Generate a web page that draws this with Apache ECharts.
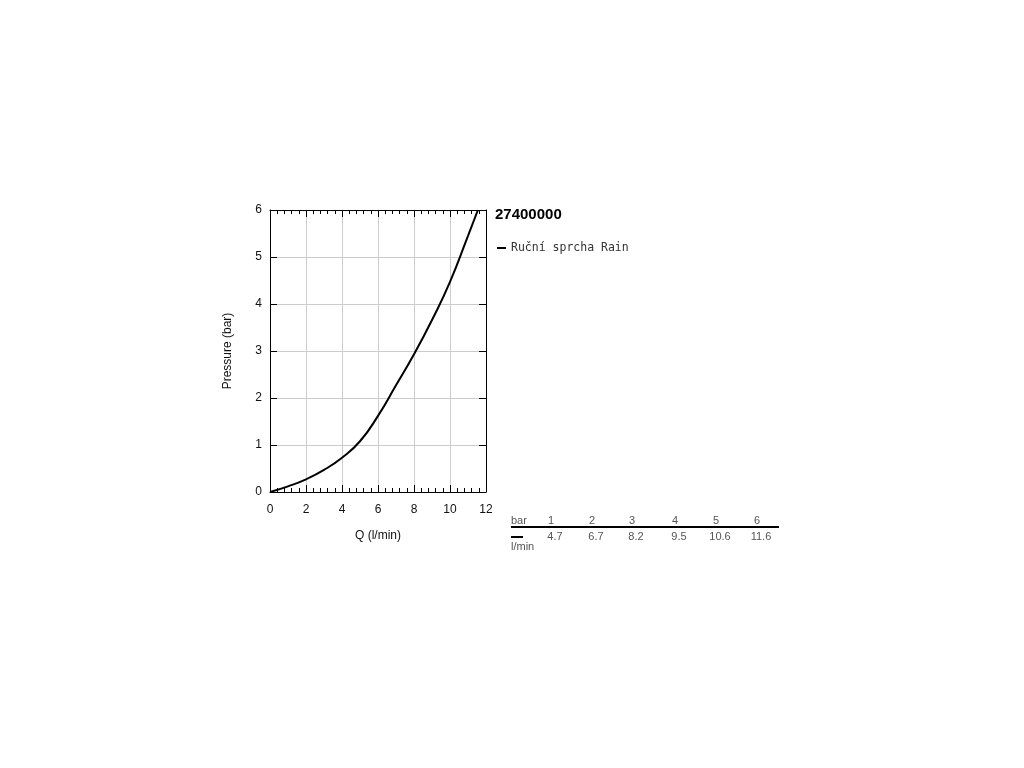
<!DOCTYPE html>
<html><head><meta charset="utf-8">
<script src="https://cdn.jsdelivr.net/npm/echarts@6/dist/echarts.min.js"></script>
<style>html,body{margin:0;padding:0;background:#fff}#c{width:1024px;height:768px}</style>
</head><body><div id="c"></div>
<script>
const productCode = '27400000';
const seriesName = 'Ruční sprcha Rain';
// curve points (Q l/min, pressure bar)
const curveQ = [0, 1, 2, 3, 4, 5, 6, 7, 8, 9, 10, 11, 11.55];
const curveP = [0, 0.12, 0.27, 0.47, 0.73, 1.08, 1.62, 2.27, 2.93, 3.66, 4.47, 5.45, 6];
// table
const tableBar = [1, 2, 3, 4, 5, 6];
const tableFlow = ['4.7', '6.7', '8.2', '9.5', '10.6', '11.6'];

const chart = echarts.init(document.getElementById('c'));
const gl = 270, gt = 210, gw = 216, gh = 282;
const axisFont = {fontFamily: 'Liberation Sans, Arial', fontSize: 12, color: '#111'};
const tFont = '11px "Liberation Sans", Arial';
const tColor = '#555';

const graphics = [];
// legend
graphics.push({type: 'line', shape: {x1: 497, y1: 248, x2: 506, y2: 248}, style: {stroke: '#000', lineWidth: 2}});
graphics.push({type: 'text', x: 511, y: 248, style: {text: seriesName, font: '11.5px "DejaVu Sans Mono", monospace', fill: '#333', verticalAlign: 'middle'}});
// table
const colX = [551, 592, 632, 675, 716, 757];
graphics.push({type: 'text', x: 511, y: 521, style: {text: 'bar', font: tFont, fill: tColor, verticalAlign: 'middle'}});
graphics.push({type: 'line', shape: {x1: 511, y1: 527, x2: 779, y2: 527}, style: {stroke: '#000', lineWidth: 2}});
graphics.push({type: 'line', shape: {x1: 511, y1: 537, x2: 523, y2: 537}, style: {stroke: '#000', lineWidth: 2}});
graphics.push({type: 'text', x: 511, y: 547, style: {text: 'l/min', font: tFont, fill: tColor, verticalAlign: 'middle'}});
tableBar.forEach((b, i) => {
  graphics.push({type: 'text', x: colX[i], y: 521, style: {text: String(b), font: tFont, fill: tColor, verticalAlign: 'middle', align: 'center'}});
  graphics.push({type: 'text', x: colX[i] + 4, y: 537, style: {text: tableFlow[i], font: tFont, fill: tColor, verticalAlign: 'middle', align: 'center'}});
});

const frameLine = {show: true, onZero: false, lineStyle: {color: '#000', width: 1}};
const majTick = {show: true, inside: true, length: 7, lineStyle: {color: '#000'}};
const minTick = {show: true, splitNumber: 5, length: 4, lineStyle: {color: '#000'}};

chart.setOption({
  animation: false,
  title: {text: productCode, left: 495, top: 207, padding: 0, textStyle: {fontFamily: 'Liberation Sans, Arial', fontSize: 15, fontWeight: 'bold', color: '#000'}},
  grid: {left: gl, top: gt, width: gw, height: gh},
  xAxis: [{
    type: 'value', min: 0, max: 12, interval: 2, position: 'bottom',
    name: 'Q (l/min)', nameLocation: 'middle', nameGap: 38,
    nameTextStyle: axisFont,
    axisLine: frameLine, axisTick: majTick, minorTick: minTick,
    axisLabel: Object.assign({margin: 12}, axisFont),
    splitLine: {show: true, lineStyle: {color: '#ccc', width: 1}}
  }, {
    type: 'value', min: 0, max: 12, interval: 2, position: 'top',
    axisLine: frameLine, axisTick: majTick, minorTick: minTick,
    axisLabel: {show: false}, splitLine: {show: false}
  }],
  yAxis: [{
    type: 'value', min: 0, max: 6, interval: 1, position: 'left',
    name: 'Pressure (bar)', nameLocation: 'middle', nameGap: 36, nameRotate: 90,
    nameTextStyle: axisFont,
    axisLine: frameLine, axisTick: majTick,
    axisLabel: Object.assign({margin: 8}, axisFont),
    splitLine: {show: true, lineStyle: {color: '#ccc', width: 1}}
  }, {
    type: 'value', min: 0, max: 6, interval: 1, position: 'right',
    axisLine: frameLine, axisTick: majTick,
    axisLabel: {show: false}, splitLine: {show: false}
  }],
  series: [{
    type: 'line', name: seriesName, xAxisIndex: 0, yAxisIndex: 0,
    data: curveQ.map((q, i) => [q, curveP[i]]),
    smooth: 0.5, showSymbol: false, symbol: 'none',
    lineStyle: {color: '#000', width: 2}
  }],
  graphic: graphics
});
</script></body></html>
